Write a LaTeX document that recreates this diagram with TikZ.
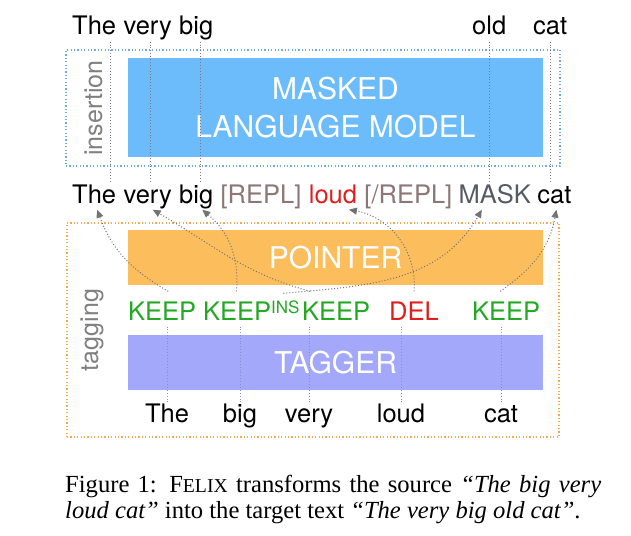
\documentclass[tikz,border=0pt]{standalone}
\usepackage{fontspec}
\setmainfont{Liberation Serif}
\setsansfont{TeX Gyre Heros}
\usetikzlibrary{positioning,arrows.meta}

\definecolor{mlmblue}{RGB}{108,188,251}
\definecolor{ptrorange}{RGB}{252,190,92}
\definecolor{taggerblue}{RGB}{163,168,251}
\definecolor{keepgreen}{RGB}{36,168,36}
\definecolor{delred}{RGB}{224,30,30}
\definecolor{replgray}{RGB}{140,118,118}
\definecolor{maskgray}{RGB}{85,90,100}
\definecolor{insframe}{RGB}{110,170,225}
\definecolor{tagframe}{RGB}{240,170,80}
\definecolor{arrowgray}{RGB}{115,115,115}
\definecolor{linkgray}{RGB}{120,120,135}
\definecolor{linkblue}{RGB}{140,140,200}

\tikzset{
  word/.style={inner sep=1pt, text height=18.5pt, text depth=5.5pt,
    font=\sffamily\fontsize{25.5}{30}\selectfont},
  model/.style={minimum width=415pt, minimum height=55pt, inner sep=0pt, text=white,
    align=center, font=\sffamily\fontsize{30}{38}\selectfont},
  stage/.style={draw, line width=1.2pt, dash pattern=on 1.2pt off 2.2pt},
  stagelabel/.style={rotate=90, anchor=base, text=gray,
    font=\sffamily\fontsize{25}{30}\selectfont},
  link/.style={linkgray, line width=0.9pt, dash pattern=on 0.9pt off 2pt},
  ptr/.style={arrowgray, line width=1pt, dash pattern=on 1pt off 2pt,
    -{Triangle[length=8pt,width=7pt]}},
}

\begin{document}
\begin{tikzpicture}[x=1pt, y=1pt]
        \useasboundingbox (0,0) rectangle (631,-535);

        % Insertion stage
        \node[stage, insframe, minimum width=494pt, minimum height=116pt] (insbox) at (313,-108) {};
        \node[model, fill=mlmblue, minimum height=99pt] (mlm) at (335.5,-107.5) {MASKED\\LANGUAGE MODEL};
        \node[stagelabel] (inslabel) at (102,-108) {insertion};

        % Output words
        \node[word, anchor=base west] (tThe) at (71,-35) {The};
        \node[word, base right=5pt of tThe] (tVery) {very};
        \node[word, base right=5pt of tVery] (tBig) {big};
        \node[word, anchor=base west] (tOld) at (471,-35) {old};
        \node[word, anchor=base west] (tCat) at (532,-35) {cat};

        % Tagged and reordered words
        \node[word, anchor=base west] (mThe) at (71,-203) {The};
        \node[word, base right=5pt of mThe] (mVery) {very};
        \node[word, base right=5pt of mVery] (mBig) {big};
        \node[word, base right=5pt of mBig, text=replgray] (mOpen) {[REPL]};
        \node[word, base right=5pt of mOpen, text=delred] (mLoud) {loud};
        \node[word, base right=5pt of mLoud, text=replgray] (mClose) {[/REPL]};
        \node[word, base right=4pt of mClose, text=maskgray] (mMask) {MASK};
        \node[word, base right=4pt of mMask] (mCat) {cat};

        \draw[link] ([xshift=16pt]tThe.south) -- ([xshift=16pt]mThe.north);
        \draw[link] ([xshift=3pt]tVery.south) -- ([xshift=3pt]mVery.north);
        \draw[link] ([xshift=4pt]tBig.south) -- ([xshift=4pt]mBig.north);
        \draw[link] (tOld.south) -- (tOld.south |- mMask.north);
        \draw[link] (tCat.south) -- (tCat.south |- mCat.north);

        % Tagging stage
        \node[stage, tagframe, minimum width=492pt, minimum height=214pt] (tagbox) at (313,-330) {};
        \node[model, fill=ptrorange] (ptrbox) at (335.5,-257.5) {POINTER};
        \node[model, fill=taggerblue] (tagger) at (335.5,-362.5) {TAGGER};
        \node[stagelabel] (taglabel) at (98,-330) {tagging};

        % Tags
        \node[word, text=keepgreen, anchor=base west] (kThe) at (127,-320) {KEEP};
        \node[word, text=keepgreen, anchor=base west] (kBig) at (202,-320) {KEEP{\fontsize{17}{17}\selectfont\raisebox{7pt}{INS}}};
        \node[word, text=keepgreen, anchor=base west] (kVery) at (301,-320) {KEEP};
        \node[word, text=delred, anchor=base west] (kLoud) at (388,-320) {DEL};
        \node[word, text=keepgreen, anchor=base west] (kCat) at (471,-320) {KEEP};

        % Source words
        \node[word, anchor=base] (bThe) at (167,-422) {The};
        \node[word, anchor=base] (bBig) at (240,-422) {big};
        \node[word, anchor=base] (bVery) at (309,-422) {very};
        \node[word, anchor=base] (bLoud) at (401,-422) {loud};
        \node[word, anchor=base] (bCat) at (501,-422) {cat};

        \draw[link, linkblue] (bThe.north) -- (bThe.north |- kThe.south);
        \draw[link, linkblue] (bBig.north) -- (bBig.north |- kBig.south);
        \draw[link, linkblue] (bVery.north) -- (bVery.north |- kVery.south);
        \draw[link, linkblue] (bLoud.north) -- (bLoud.north |- kLoud.south);
        \draw[link, linkblue] (bCat.north) -- (bCat.north |- kCat.south);

        % Pointer arrows
        \draw[ptr] ([xshift=6pt,yshift=9pt]kThe.north) to[out=150,in=-70] ([xshift=3pt]mThe.south);
        \draw[ptr] ([xshift=-15pt,yshift=9pt]kBig.north) to[out=85,in=-40] ([xshift=6pt]mBig.south);
        \draw[ptr] ([xshift=32pt,yshift=7pt]kBig.north) to[out=5,in=-120] ([xshift=-13pt]mMask.south);
        \draw[ptr] ([xshift=-26pt,yshift=9pt]kVery.north) to[out=165,in=-30] ([xshift=5pt]mVery.south);
        \draw[ptr] ([yshift=9pt]kLoud.north) to[out=85,in=-10] ([xshift=16pt]mLoud.south);
        \draw[ptr] ([xshift=-6pt,yshift=9pt]kCat.north) to[out=35,in=-100] ([xshift=2pt]mCat.south);

        % Caption
        \node[anchor=north west, inner sep=0pt, text width=536pt, align=justify,
            font=\fontsize{24.6}{26}\selectfont] (caption) at (65,-475)
            {Figure 1: F{\fontsize{19.7}{26}\selectfont ELIX} transforms the source \textit{“The big very\linebreak loud cat”} into the target text \textit{“The very big old cat”}.};

\end{tikzpicture}
\end{document}
